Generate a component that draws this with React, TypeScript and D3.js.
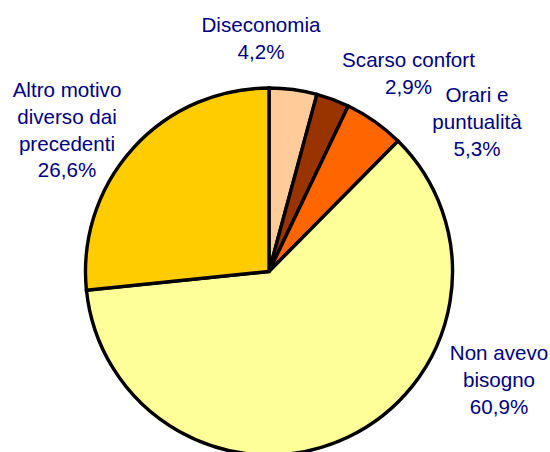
import React from "react";
import * as d3 from "d3";

const categories = [
  "Diseconomia",
  "Scarso confort",
  "Orari e puntualità",
  "Non avevo bisogno",
  "Altro motivo diverso dai precedenti",
];
const values = [4.2, 2.9, 5.3, 60.9, 26.6];
const labelLines = [
  ["Diseconomia", "4,2%"],
  ["Scarso confort", "2,9%"],
  ["Orari e", "puntualità", "5,3%"],
  ["Non avevo", "bisogno", "60,9%"],
  ["Altro motivo", "diverso dai", "precedenti", "26,6%"],
];
const colors = ["#FFCC99", "#993300", "#FF6600", "#FFFF99", "#FFCC00"];

// layout: label anchor (center x, first baseline y)
const labelPos: [number, number][] = [
  [261, 32],
  [408.5, 67],
  [477, 102],
  [499, 360],
  [67, 97],
];

const W = 550;
const H = 452;
const CX = 269;
const CY = 271.5;
const R = 183.5;
const LINE_H = 26.8;

export default function App() {
  const pie = d3
    .pie<number>()
    .sort(null)
    .value((d) => d)
    .startAngle(0)
    .endAngle(2 * Math.PI);
  const arcs = pie(values);
  const arc = d3.arc<d3.PieArcDatum<number>>().innerRadius(0).outerRadius(R);

  return (
    <svg
      width={W}
      height={H}
      style={{ position: "absolute", left: 0, top: 0, display: "block", background: "#fff" }}
    >
      <g transform={`translate(${CX},${CY})`}>
        {arcs.map((a, i) => (
          <path
            key={categories[i]}
            d={arc(a) || ""}
            fill={colors[i]}
            stroke="#000"
            strokeWidth={3.4}
            strokeLinejoin="miter"
          />
        ))}
      </g>
      {labelLines.map((lines, i) => (
        <text
          key={categories[i]}
          textAnchor="middle"
          fill="#000080"
          fontFamily="'Liberation Sans', Arial, sans-serif"
          fontSize={20.6}
        >
          {lines.map((l, j) => (
            <tspan key={j} x={labelPos[i][0]} y={labelPos[i][1] + j * LINE_H}>
              {l}
            </tspan>
          ))}
        </text>
      ))}
    </svg>
  );
}
